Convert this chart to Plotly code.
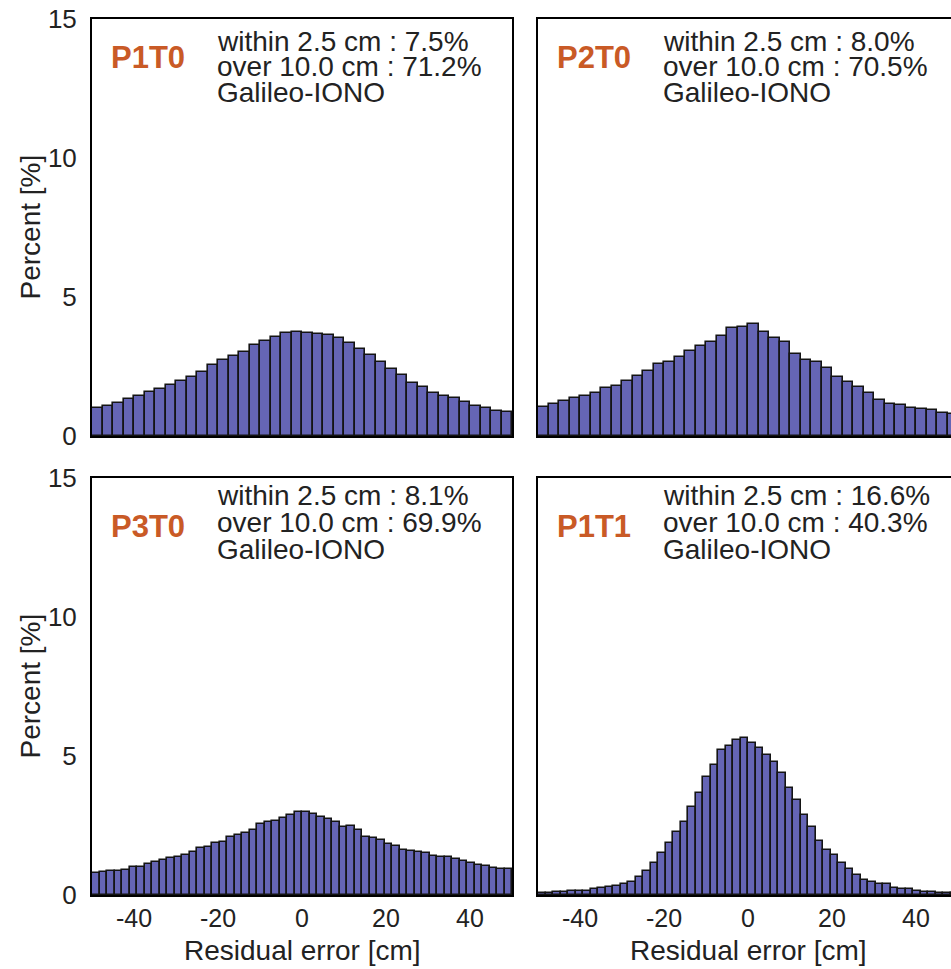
import plotly.graph_objects as go

# ---------------- data ----------------
panel_names = ["P1T0", "P2T0", "P3T0", "P1T1"]
within_2p5 = ["7.5%", "8.0%", "8.1%", "16.6%"]
over_10 = ["71.2%", "70.5%", "69.9%", "40.3%"]
system_label = "Galileo-IONO"

p1t0 = [1.00, 1.09, 1.20, 1.32, 1.44, 1.57, 1.68, 1.83, 1.99, 2.13,
        2.31, 2.55, 2.73, 2.88, 3.01, 3.27, 3.42, 3.57, 3.69, 3.74,
        3.72, 3.67, 3.63, 3.51, 3.33, 3.12, 2.91, 2.67, 2.40, 2.19,
        1.92, 1.75, 1.56, 1.44, 1.38, 1.21, 1.08, 1.02, 0.90, 0.85]
p2t0 = [1.05, 1.14, 1.27, 1.36, 1.44, 1.56, 1.72, 1.80, 1.99, 2.16,
        2.34, 2.59, 2.67, 2.85, 3.07, 3.24, 3.37, 3.60, 3.87, 3.91,
        4.02, 3.75, 3.54, 3.37, 2.95, 2.73, 2.65, 2.46, 2.13, 1.95,
        1.75, 1.54, 1.29, 1.15, 1.12, 1.02, 0.98, 0.94, 0.82, 0.80]
p3t0 = [0.78, 0.82, 0.86, 0.86, 0.90, 1.00, 1.00, 1.12, 1.20, 1.26,
        1.32, 1.38, 1.44, 1.56, 1.68, 1.74, 1.86, 1.92, 2.07, 2.16,
        2.22, 2.34, 2.54, 2.64, 2.66, 2.76, 2.88, 3.00, 2.97, 2.91,
        2.82, 2.72, 2.64, 2.46, 2.48, 2.34, 2.10, 2.04, 1.98, 1.83,
        1.76, 1.62, 1.59, 1.56, 1.50, 1.41, 1.38, 1.36, 1.29, 1.22,
        1.14, 1.08, 1.04, 0.96, 0.94, 0.94]
p1t1 = [0.08, 0.09, 0.10, 0.12, 0.14, 0.16, 0.15, 0.20, 0.24, 0.29,
        0.33, 0.38, 0.48, 0.66, 0.88, 1.14, 1.50, 1.88, 2.26, 2.64,
        3.16, 3.66, 4.26, 4.66, 5.20, 5.36, 5.58, 5.64, 5.48, 5.27,
        5.04, 4.80, 4.40, 3.84, 3.40, 2.86, 2.44, 1.96, 1.63, 1.44,
        1.15, 0.94, 0.73, 0.55, 0.46, 0.41, 0.39, 0.26, 0.23, 0.21,
        0.16, 0.12, 0.10, 0.08, 0.07, 0.06]
series = [p1t0, p2t0, p3t0, p1t1]

x_lo, x_hi = -50.0, 50.0
x_ticks = [-40, -20, 0, 20, 40]
x_tick_labels = ["-40", "-20", "0", "20", "40"]
y_ticks = [0, 5, 10, 15]
y_tick_labels = ["0", "5", "10", "15"]
x_title = "Residual error [cm]"
y_title = "Percent [%]"

# ---------------- layout / style ----------------
W, H = 951, 969
FONT = "Liberation Sans, Arial, Helvetica, sans-serif"
FILL = "#6565b5"
EDGE = "#141414"
TEXT = "#222222"
TITLE_C = "#c95a26"

px_per_cm = 4.2
lefts = [92, 538, 92, 538]
tops = [19, 19, 478, 478]
plot_h = 417

def fx(p):
    return p / W

def fy(p):
    return 1 - p / H

fig = go.Figure()
annotations = []

for i, vals in enumerate(series):
    n = len(vals)
    w = (x_hi - x_lo) / n
    centers = [x_lo + (k + 0.5) * w for k in range(n)]
    ax = "" if i == 0 else str(i + 1)
    fig.add_trace(go.Bar(
        x=centers, y=vals, width=w,
        marker=dict(color=FILL, line=dict(color=EDGE, width=1.6)),
        xaxis="x" + ax, yaxis="y" + ax, showlegend=False,
    ))
    left, top = lefts[i], tops[i]
    right_px = min(left + (x_hi - x_lo) * px_per_cm, W)
    x_end = x_lo + (right_px - left) / px_per_cm
    col_left = (i % 2 == 0)
    bottom_row = (i >= 2)
    fig.update_layout(**{
        "xaxis" + ax: dict(
            domain=[fx(left), fx(right_px)], range=[x_lo, x_end],
            anchor="y" + ax, showline=True, linewidth=2, linecolor="black",
            mirror=True, showgrid=False, zeroline=False, ticks="",
            tickvals=x_ticks, ticktext=x_tick_labels,
            showticklabels=bottom_row, automargin=False,
            tickfont=dict(family=FONT, size=25, color=TEXT),
            ticklabelstandoff=0,
        ),
        "yaxis" + ax: dict(
            domain=[fy(top + plot_h), fy(top)], range=[0, 15],
            anchor="x" + ax, showline=True, linewidth=2, linecolor="black",
            mirror=col_left, showgrid=False, zeroline=False, ticks="",
            tickvals=y_ticks, ticktext=y_tick_labels,
            showticklabels=col_left, automargin=False,
            tickfont=dict(family=FONT, size=26, color=TEXT),
            ticklabelstandoff=8,
        ),
    })
    # panel label
    t_off = 38 if not bottom_row else 48
    annotations.append(dict(
        text="<b>%s</b>" % panel_names[i], x=fx(left + 56), y=fy(top + t_off),
        xref="paper", yref="paper", xanchor="center", yanchor="middle",
        showarrow=False, font=dict(family=FONT, size=31, color=TITLE_C)))
    lines = ["within 2.5 cm : %s" % within_2p5[i],
             "over 10.0 cm : %s" % over_10[i],
             system_label]
    offs = [22, 47, 73] if not bottom_row else [18, 44, 71]
    for txt, o in zip(lines, offs):
        annotations.append(dict(
            text=txt, x=fx(left + 123), y=fy(top + o),
            xref="paper", yref="paper", xanchor="left", yanchor="middle",
            showarrow=False, font=dict(family=FONT, size=28, color=TEXT)))
    # axis titles
    if col_left:
        annotations.append(dict(
            text=y_title, x=fx(30), y=fy(top + plot_h / 2), textangle=-90,
            xref="paper", yref="paper", xanchor="center", yanchor="middle",
            showarrow=False, font=dict(family=FONT, size=28, color=TEXT)))
    if bottom_row:
        annotations.append(dict(
            text=x_title, x=fx(left + 50 * px_per_cm), y=fy(950),
            xref="paper", yref="paper", xanchor="center", yanchor="middle",
            showarrow=False, font=dict(family=FONT, size=28, color=TEXT)))

fig.update_layout(
    width=W, height=H, margin=dict(l=0, r=0, t=0, b=0, autoexpand=False),
    paper_bgcolor="white", plot_bgcolor="white",
    annotations=annotations, bargap=0,
    font=dict(family=FONT, color=TEXT),
)

fig.write_html("out.html")
